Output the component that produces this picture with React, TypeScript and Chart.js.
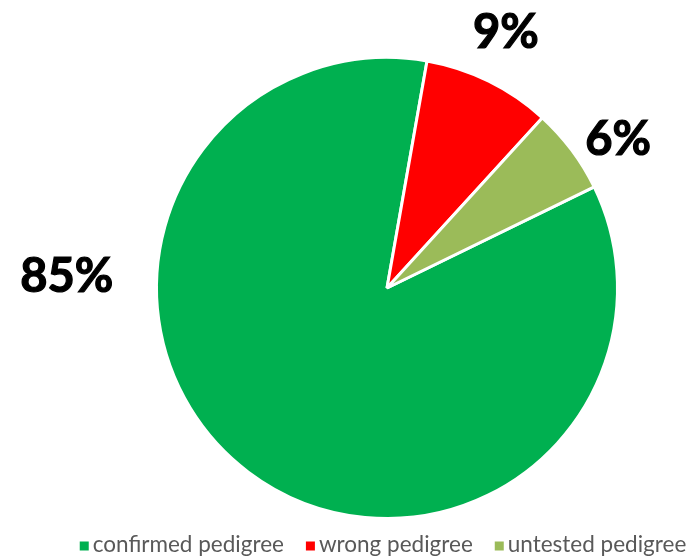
import React, { useEffect, useRef } from "react";
import { Chart, registerables } from "chart.js";

Chart.register(...registerables);

const categories = ["confirmed pedigree", "wrong pedigree", "untested pedigree"];
const values = [85, 9, 6];
const valueLabels = ["85%", "9%", "6%"];
const colors = ["#00B050", "#FF0000", "#9BBB59"];

// label placement relative to pie center: angle (deg clockwise from top), distance as fraction of radius
const labelAngles = [272, 25, 57.4];
const labelDist = [1.39, 1.22, 1.19];

const pieLabelsPlugin = {
  id: "pieLabels",
  afterDatasetsDraw(chart: any) {
    const meta = chart.getDatasetMeta(0);
    const ctx = chart.ctx;
    ctx.save();
    ctx.font = "bold 47px Lato";
    ctx.fillStyle = "#000000";
    ctx.textAlign = "center";
    ctx.textBaseline = "middle";
    ctx.lineWidth = 1.2;
    ctx.strokeStyle = "#000000";
    meta.data.forEach((arc: any, i: number) => {
      const a = (labelAngles[i] * Math.PI) / 180;
      const r = arc.outerRadius * labelDist[i];
      const x = arc.x + Math.sin(a) * r;
      const y = arc.y - Math.cos(a) * r;
      ctx.fillText(valueLabels[i], x, y);
      ctx.strokeText(valueLabels[i], x, y);
    });
    ctx.restore();
  },
};

const customLegendPlugin = {
  id: "customLegend",
  afterDraw(chart: any) {
    const ctx = chart.ctx;
    const labels: string[] = chart.data.labels;
    const bg: string[] = chart.data.datasets[0].backgroundColor;
    ctx.save();
    ctx.font = "22.5px Lato";
    ctx.textBaseline = "middle";
    const box = 9;
    const gapBoxText = 4;
    const gapItems = 22;
    const widths = labels.map((l) => box + gapBoxText + ctx.measureText(l).width);
    const total = widths.reduce((s, w) => s + w, 0) + gapItems * (labels.length - 1);
    const cx = (chart.chartArea.left + chart.chartArea.right) / 2 - 4;
    let x = cx - total / 2;
    const y = chart.height - 12;
    labels.forEach((l, i) => {
      ctx.fillStyle = bg[i];
      ctx.fillRect(x, y - box / 2 + 1, box, box);
      ctx.fillStyle = "#595959";
      ctx.fillText(l, x + box + gapBoxText, y);
      x += widths[i] + gapItems;
    });
    ctx.restore();
  },
};

export default function App() {
  const ref = useRef<HTMLCanvasElement | null>(null);
  useEffect(() => {
    document.body.style.margin = "0";
    const chart = new Chart(ref.current as HTMLCanvasElement, {
      type: "pie",
      data: {
        labels: categories,
        datasets: [
          {
            data: values,
            backgroundColor: colors,
            borderColor: "#FFFFFF",
            borderWidth: 3,
          },
        ],
      },
      options: {
        animation: false,
        responsive: false,
        rotation: 64,
        layout: { padding: { top: 56, bottom: 37, left: 75, right: 0 } },
        plugins: {
          legend: { display: false },
          tooltip: { enabled: false },
        },
      },
      plugins: [pieLabelsPlugin, customLegendPlugin],
    });
    return () => chart.destroy();
  }, []);
  return (
    <div style={{ width: 699, height: 557 }}>
      <canvas ref={ref} width={699} height={557} style={{ display: "block" }} />
    </div>
  );
}
